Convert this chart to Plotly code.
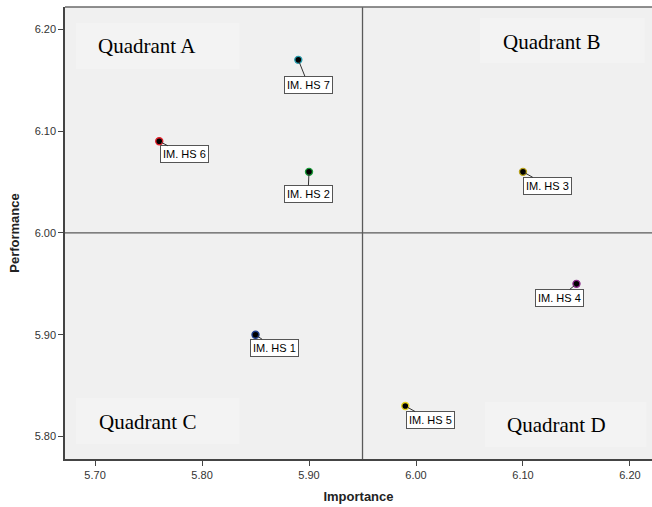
import plotly.graph_objects as go

labels = ["IM. HS 1", "IM. HS 2", "IM. HS 3", "IM. HS 4", "IM. HS 5", "IM. HS 6", "IM. HS 7"]
importance = [5.85, 5.90, 6.10, 6.15, 5.99, 5.76, 5.89]
performance = [5.90, 6.06, 6.06, 5.95, 5.83, 6.09, 6.17]
outline_colors = ["#1f3c88", "#1a9e3a", "#b8a21c", "#8a2a8a", "#e6d21a", "#e0202a", "#2a9fb0"]
label_offsets = [(19, 13), (-1, 22), (25, 14), (-17, 14), (25, 14), (25, 13), (10, 25)]

x_ticks = [5.70, 5.80, 5.90, 6.00, 6.10, 6.20]
y_ticks = [5.80, 5.90, 6.00, 6.10, 6.20]
x_split = 5.95
y_split = 6.00

quadrant_names = ["Quadrant A", "Quadrant B", "Quadrant C", "Quadrant D"]
quadrant_pos = [(5.7487, 6.1836), (6.1262, 6.1875), (5.7487, 5.8140), (6.1311, 5.8110)]
quadrant_boxes = [(5.6822, 5.8350, 6.1610, 6.2062),
                  (6.0599, 6.2136, 6.1669, 6.2111),
                  (5.6822, 5.8350, 5.7928, 5.8380),
                  (6.0646, 6.2155, 5.7899, 5.8341)]

fig = go.Figure()

fig.add_trace(go.Scatter(
    x=importance, y=performance, mode="markers",
    marker=dict(size=7, color="black", line=dict(color=outline_colors, width=1.4)),
    hoverinfo="skip", showlegend=False,
))

for (x0, x1, y0, y1) in quadrant_boxes:
    fig.add_shape(type="rect", x0=x0, x1=x1, y0=y0, y1=y1, xref="x", yref="y",
                  fillcolor="#f3f3f3", line=dict(width=0), layer="below")

fig.add_shape(type="line", x0=x_split, x1=x_split, y0=0, y1=1, xref="x", yref="paper",
              line=dict(color="#5a5a5a", width=1.3))
fig.add_shape(type="line", x0=0, x1=1, y0=y_split, y1=y_split, xref="paper", yref="y",
              line=dict(color="#5a5a5a", width=1.3))
fig.add_shape(type="line", x0=0, x1=1, y0=1, y1=1, xref="paper", yref="paper",
              line=dict(color="#6a6a6a", width=1.5))

for name, (qx, qy) in zip(quadrant_names, quadrant_pos):
    fig.add_annotation(x=qx, y=qy, text=name, showarrow=False, xref="x", yref="y",
                       font=dict(family="Liberation Serif, Times New Roman, serif", size=21, color="black"))

for lab, xv, yv, (ox, oy) in zip(labels, importance, performance, label_offsets):
    fig.add_annotation(x=xv, y=yv, text=lab, xref="x", yref="y", showarrow=True,
                       ax=ox, ay=oy, arrowhead=0, arrowwidth=1, arrowcolor="#333333",
                       standoff=2,
                       bgcolor="white", bordercolor="#555555", borderwidth=1, borderpad=2,
                       font=dict(family="Liberation Sans, Arial, sans-serif", size=11, color="black"))

fig.update_layout(
    width=652, height=507,
    margin=dict(l=65, r=0, t=7, b=48),
    paper_bgcolor="white", plot_bgcolor="#f0f0f0",
    font=dict(family="Liberation Sans, Arial, sans-serif", size=11, color="#333333"),
    xaxis=dict(range=[5.6719, 6.2206], tickvals=x_ticks, ticktext=[f"{v:.2f}" for v in x_ticks],
               showgrid=False, zeroline=False, showline=True, linecolor="#444444", linewidth=1.5,
               ticks="outside", ticklen=5, tickcolor="#444444",
               title=dict(text="<b>Importance</b>", font=dict(size=13, color="#222222"), standoff=12)),
    yaxis=dict(range=[5.778, 6.2219], tickvals=y_ticks, ticktext=[f"{v:.2f}" for v in y_ticks],
               showgrid=False, zeroline=False, showline=True, linecolor="#444444", linewidth=1.5,
               ticks="outside", ticklen=5, tickcolor="#444444",
               title=dict(text="<b>Performance</b>", font=dict(size=13, color="#222222"), standoff=12)),
)

fig.write_html("out.html", config={"displayModeBar": False},
               post_script="document.body.style.margin='0';document.body.style.overflow='hidden';")
